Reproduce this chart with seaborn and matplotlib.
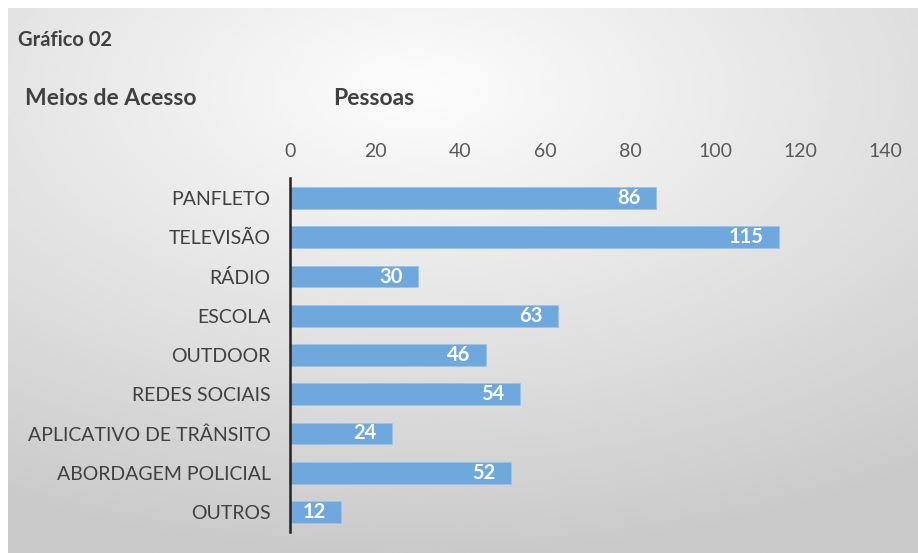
import matplotlib
matplotlib.use("Agg")
import matplotlib.pyplot as plt
import seaborn as sns
import numpy as np
import pandas as pd

meios = ["PANFLETO", "TELEVISÃO", "RÁDIO", "ESCOLA", "OUTDOOR", "REDES SOCIAIS",
         "APLICATIVO DE TRÂNSITO", "ABORDAGEM POLICIAL", "OUTROS"]
pessoas = [86, 115, 30, 63, 46, 54, 24, 52, 12]
x_ticks = [0, 20, 40, 60, 80, 100, 120, 140]

df = pd.DataFrame({"Meio": meios, "Pessoas": pessoas})

sns.set_style("white")
plt.rcParams["font.family"] = ["Lato", "DejaVu Sans"]

W, H = 918, 553
fig = plt.figure(figsize=(W / 100, H / 100), dpi=100)
fig.patch.set_facecolor("white")

# gradient background panel
bg = fig.add_axes([8 / W, 0, 1 - 8 / W, 1 - 8 / H])
yy, xx = np.mgrid[0:1:200j, 0:1:300j]
d = np.sqrt(((xx - 0.45) * 1.0) ** 2 + ((yy - 0.15) * 1.1) ** 2)
shade = 0.99 - 0.2 * np.clip(d / 0.95, 0, 1)
bg.imshow(shade, cmap="gray", vmin=0, vmax=1, aspect="auto", extent=[0, 1, 1, 0])
bg.set_axis_off()

ax = fig.add_axes([290 / W, 1 - 531.6 / H, (885 - 290) / W, (531.6 - 178.4) / H])
ax.patch.set_alpha(0)
sns.barplot(data=df, x="Pessoas", y="Meio", color="#6FA8DC", width=0.56,
            saturation=1, ax=ax, edgecolor="#9DC3E6", linewidth=0.6)

ax.set_xlim(0, 140)
ax.set_xticks(x_ticks)
ax.xaxis.tick_top()
ax.tick_params(axis="x", length=0, pad=13, labelsize=14, labelcolor="#595959")
ax.tick_params(axis="y", length=0, pad=14, labelsize=14, labelcolor="#404040")
ax.set_xlabel("")
ax.set_ylabel("")
for s in ["top", "right", "bottom"]:
    ax.spines[s].set_visible(False)
ax.spines["left"].set_color("#222222")
ax.spines["left"].set_linewidth(1.8)

for c in ax.containers:
    labels = ax.bar_label(c, padding=-11, color="white", fontsize=14.5, fontweight="bold")
    for t in labels:
        t.set_horizontalalignment("right")

fig.text(18 / W, 1 - 40 / H, "Gráfico 02", fontsize=14.5, fontweight="bold",
         color="#404040", va="center")
fig.text(25 / W, 1 - 98 / H, "Meios de Acesso", fontsize=16.5, fontweight="bold",
         color="#404040", va="center")
fig.text(333 / W, 1 - 98 / H, "Pessoas", fontsize=16.5, fontweight="bold",
         color="#404040", va="center")

fig.savefig("out.png", dpi=100)
